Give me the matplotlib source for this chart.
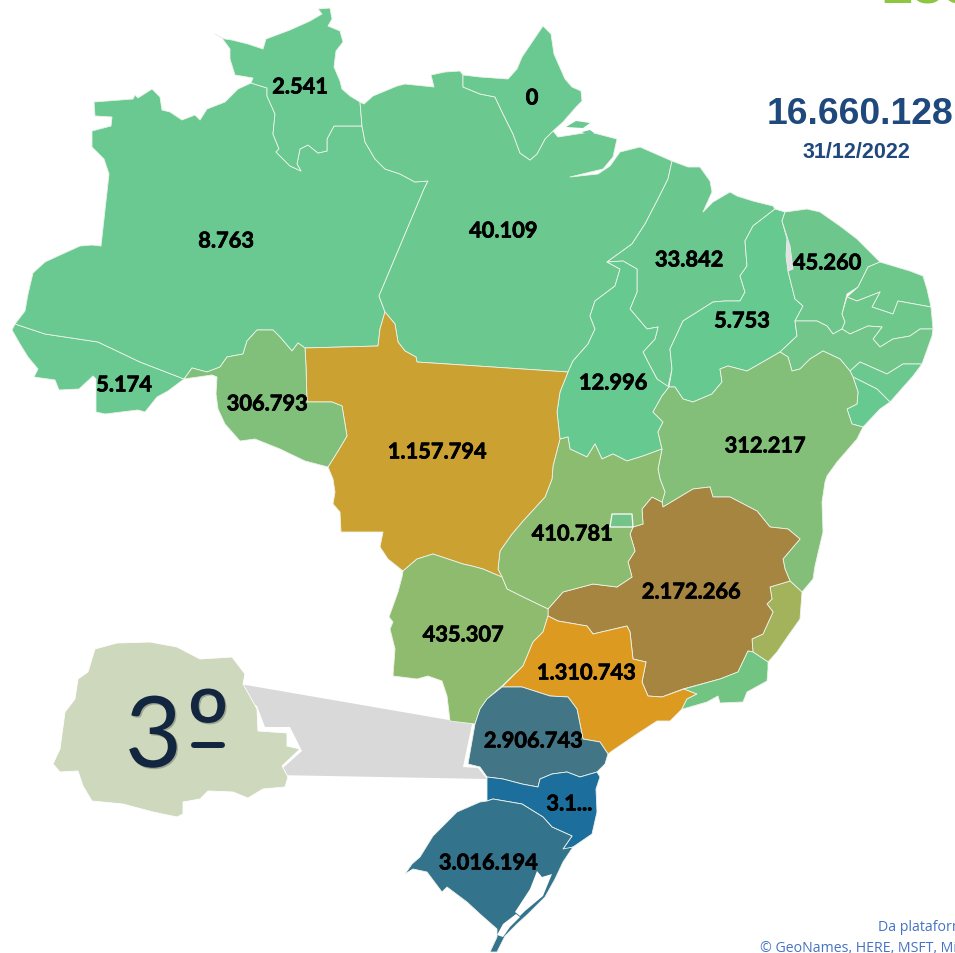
import matplotlib
matplotlib.use("Agg")
import matplotlib.pyplot as plt
import matplotlib.patheffects as pe

# outlines, in picture pixels
AC = [(15,325),(12,331),(20,345),(28,358),(38,370),(34,378),(55,381),(59,391),(79,390),(93,377),(96,380),(96,413),(105,415),(138,411),(145,413),(157,398),(168,392),(184,380),(140,363),(98,343),(45,335)]
AM = [(15,325),(25,312),(28,295),(33,274),(45,263),(58,257),(80,247),(92,246),(101,247),(109,175),(104,160),(92,148),(92,132),(111,127),(112,118),(95,117),(94,103),(133,100),(135,96),(138,99),(152,90),(160,98),(162,111),(170,113),(182,121),(195,116),(200,121),(207,110),(225,103),(235,93),(238,90),(251,84),(267,89),(267,97),(275,115),(273,135),(279,150),(276,153),(290,167),(301,172),(297,165),(300,150),(308,146),(318,154),(327,152),(327,140),(334,127),(362,127),(365,143),(375,160),(385,170),(400,175),(415,183),(428,182),(424,190),(379,297),(385,313),(380,330),(378,347),(305,349),(298,344),(292,352),(280,338),(273,331),(257,331),(247,342),(243,355),(227,358),(220,368),(207,373),(192,369),(184,380),(140,363),(98,343),(45,335)]
RR = [(251,84),(253,79),(235,76),(230,60),(230,50),(222,39),(215,35),(225,40),(232,41),(248,45),(263,50),(266,40),(290,31),(310,22),(322,15),(318,10),(330,9),(332,20),(328,27),(340,32),(343,43),(336,52),(334,68),(340,82),(342,90),(350,97),(360,103),(362,127),(334,127),(327,140),(327,152),(318,154),(308,146),(300,150),(297,165),(301,172),(290,167),(276,153),(279,150),(273,135),(275,115),(267,97),(267,89)]
PA = [(360,103),(364,105),(373,97),(397,87),(405,85),(434,88),(431,76),(445,73),(460,72),(463,76),(463,88),(480,95),(495,98),(503,115),(513,135),(520,154),(530,161),(537,155),(545,140),(553,132),(558,138),(590,133),(617,140),(613,158),(603,170),(570,178),(598,175),(610,167),(620,153),(640,148),(672,162),(668,180),(658,200),(645,225),(632,245),(607,263),(620,270),(615,287),(595,302),(590,317),(595,330),(588,345),(573,362),(568,373),(417,363),(416,358),(405,352),(398,343),(395,325),(385,313),(379,297),(424,190),(428,182),(415,183),(400,175),(385,170),(375,160),(365,143),(362,127)]
AP = [(463,76),(480,78),(508,80),(517,70),(522,58),(543,27),(551,35),(554,55),(565,80),(572,88),(581,92),(582,102),(577,107),(570,115),(563,123),(553,132),(545,140),(537,155),(530,161),(520,154),(513,135),(503,115),(495,98),(480,95),(463,88)]
DELTA_ISLE_1 = [(566,128),(576,122),(590,124),(583,129)]
DELTA_ISLE_2 = [(582,133),(590,131),(594,134),(588,136)]
MA = [(672,162),(688,168),(700,168),(710,182),(712,193),(703,213),(713,203),(730,193),(737,197),(753,202),(773,207),(775,210),(753,227),(745,242),(747,267),(740,277),(745,293),(740,302),(725,302),(713,303),(683,322),(670,350),(672,370),(668,388),(657,380),(648,363),(643,353),(655,340),(658,328),(647,330),(630,310),(637,293),(637,270),(623,262),(607,263),(632,245),(645,225),(658,200),(668,180)]
TO = [(607,263),(620,270),(615,287),(595,302),(590,317),(595,330),(588,345),(573,362),(568,373),(560,393),(557,413),(560,440),(568,438),(570,450),(587,458),(595,445),(602,460),(613,455),(627,462),(643,457),(662,450),(658,433),(663,423),(653,413),(662,397),(669,388),(657,380),(648,363),(643,353),(655,340),(658,328),(647,330),(630,310),(637,293),(637,270),(623,262)]
PI = [(775,210),(785,213),(782,222),(787,240),(786,257),(788,272),(795,300),(803,307),(795,322),(797,337),(780,353),(768,360),(747,372),(728,367),(720,370),(722,383),(712,395),(693,403),(683,400),(675,388),(669,388),(672,370),(670,350),(683,322),(713,303),(725,302),(740,302),(745,293),(740,277),(747,267),(745,242),(753,227)]
SLIVER = [(782,222),(790,247),(793,270),(788,272),(786,257),(787,240)]
CE = [(785,213),(807,210),(820,213),(840,227),(857,240),(880,263),(868,268),(858,288),(847,295),(842,315),(845,323),(842,330),(833,335),(827,327),(817,322),(795,322),(803,307),(795,300),(788,272),(793,270),(790,247),(782,222)]
RN = [(880,263),(910,272),(923,277),(927,290),(931,308),(898,302),(893,315),(872,308),(880,293),(857,302),(847,298),(858,288),(868,268)]
PB = [(931,308),(933,330),(920,330),(910,337),(893,340),(880,348),(873,340),(882,328),(868,327),(850,335),(842,330),(845,323),(842,315),(847,298),(857,302),(880,293),(872,308),(893,315),(898,302)]
PE = [(933,330),(932,337),(922,365),(903,365),(887,375),(860,363),(850,372),(840,360),(823,352),(810,360),(800,370),(792,372),(788,358),(780,353),(797,337),(795,322),(817,322),(827,327),(833,335),(842,330),(850,335),(868,327),(882,328),(873,340),(880,348),(893,340),(910,337),(920,330)]
AL = [(922,365),(913,377),(890,403),(877,390),(853,378),(850,372),(860,363),(887,375),(903,365)]
SE = [(890,403),(880,410),(863,428),(852,425),(847,410),(857,405),(858,393),(853,378),(877,390)]
BA = [(662,397),(669,388),(675,388),(683,400),(693,403),(712,395),(722,383),(720,370),(728,367),(747,372),(768,360),(780,353),(788,358),(792,372),(800,370),(810,360),(823,352),(840,360),(850,372),(853,378),(858,393),(857,405),(847,410),(852,425),(863,428),(857,440),(837,463),(827,477),(825,483),(822,503),(823,533),(815,567),(813,580),(802,593),(790,582),(785,570),(783,560),(800,540),(788,530),(770,528),(757,512),(730,498),(713,498),(710,488),(693,490),(663,508),(662,502),(665,493),(660,480),(658,470),(662,450),(658,433),(663,423),(653,413)]
ES = [(790,582),(802,593),(800,620),(788,637),(777,653),(768,663),(753,653),(752,640),(763,635),(773,613),(767,605),(772,600),(770,588)]
MG = [(663,508),(693,490),(710,488),(713,498),(730,498),(757,512),(770,528),(788,530),(800,540),(783,560),(785,570),(790,582),(770,588),(772,600),(767,605),(773,613),(763,635),(752,640),(753,653),(748,652),(738,673),(720,680),(683,690),(662,698),(648,697),(642,683),(646,663),(633,660),(630,633),(627,627),(593,635),(587,627),(558,622),(548,617),(548,610),(563,593),(593,585),(617,588),(632,578),(628,563),(635,552),(630,535),(633,528),(643,525),(642,510),(652,498),(662,503)]
GO = [(658,470),(662,450),(643,457),(627,462),(613,455),(602,460),(595,445),(587,458),(570,450),(568,438),(560,440),(553,467),(552,480),(545,498),(523,522),(512,535),(500,552),(498,570),(502,578),(507,590),(523,598),(548,610),(563,593),(593,585),(617,588),(632,578),(628,563),(635,552),(630,535),(633,528),(643,525),(642,510),(652,498),(662,503),(665,493),(660,480)]
DF = [(612,515),(632,515),(633,528),(610,528)]
MT = [(385,313),(395,325),(398,343),(405,352),(416,358),(417,363),(568,373),(560,393),(557,413),(560,440),(553,467),(552,480),(545,498),(523,522),(512,535),(500,552),(498,570),(502,578),(497,576),(483,570),(472,567),(463,565),(433,555),(417,560),(403,572),(388,560),(380,548),(383,533),(341,533),(340,513),(333,505),(335,493),(333,480),(328,468),(338,452),(347,437),(342,407),(332,403),(307,403),(306,367),(305,349),(378,347),(380,330)]
RO = [(305,349),(306,367),(307,403),(332,403),(342,407),(347,437),(338,452),(328,468),(305,462),(280,450),(255,440),(240,442),(225,425),(218,410),(216,395),(217,378),(212,376),(184,380),(192,369),(207,373),(220,368),(227,358),(243,355),(247,342),(257,331),(273,331),(280,338),(292,352),(298,344)]
MS = [(403,572),(417,560),(433,555),(463,565),(472,567),(483,570),(497,576),(502,578),(507,590),(523,598),(548,610),(548,617),(543,633),(533,643),(523,667),(502,687),(487,700),(480,710),(475,725),(450,722),(447,697),(442,682),(428,677),(417,680),(393,677),(395,650),(390,630),(393,623),(389,618),(398,593),(402,578)]
SP = [(558,622),(587,627),(593,635),(627,627),(630,633),(633,660),(646,663),(642,683),(648,697),(662,698),(684,690),(697,695),(687,700),(682,710),(670,722),(657,722),(637,735),(612,752),(608,755),(600,743),(583,740),(577,710),(568,698),(550,697),(522,688),(502,688),(523,667),(533,643),(543,633),(548,617)]
RJ = [(748,652),(753,653),(768,663),(768,670),(767,682),(747,693),(743,703),(720,704),(718,697),(707,703),(683,710),(682,710),(687,700),(697,695),(684,690),(720,680),(738,673)]
PR = [(502,688),(522,688),(550,697),(568,698),(577,710),(583,740),(600,743),(608,755),(605,765),(597,773),(580,778),(567,773),(552,775),(540,780),(538,788),(522,785),(503,780),(487,778),(480,768),(468,765),(475,725),(480,710),(487,700)]
SC = [(487,778),(503,780),(522,785),(538,788),(540,780),(552,775),(567,773),(580,778),(597,773),(600,778),(596,790),(597,813),(592,835),(573,848),(563,852),(563,850),(572,837),(552,828),(543,818),(522,805),(493,800),(487,802),(487,787)]
RS = [(487,802),(493,800),(522,805),(543,818),(552,828),(572,837),(563,850),(573,848),(563,863),(555,880),(545,898),(528,915),(517,925),(505,937),(497,953),(490,953),(497,938),(497,930),(480,915),(467,903),(447,888),(442,893),(427,873),(413,870),(405,875),(412,865),(420,858),(433,837),(443,827),(457,813),(480,803)]
LAGOA_PATOS = [(537,872),(542,878),(552,875),(543,897),(525,912),(520,917),(515,913),(530,890)]
LAGOA_MIRIM = [(516,915),(520,918),(510,928),(503,938),(497,936),(503,925)]
PR_INSET = [(95,650),(117,644),(150,643),(177,648),(200,660),(232,658),(245,675),(243,685),(257,710),(258,732),(287,734),(287,747),(300,750),(282,767),(288,778),(285,788),(263,790),(248,799),(233,793),(208,792),(200,800),(183,803),(183,815),(177,818),(153,813),(123,805),(92,802),(83,787),(78,772),(60,773),(53,765),(60,750),(65,713),(75,700),(78,680),(88,673)]
CONNECTOR = [(240,685),(472,725),(463,768),(478,769),(487,780),(275,776),(302,752),(290,728),(265,728),(257,707),(245,700)]

states = [AC, AM, RR, PA, AP, MA, TO, PI, CE, RN, PB, PE, AL, SE, BA, ES, MG, GO, MT, RO, MS, SP, RJ, PR, SC, RS]
state_colors = ["#69C990", "#69C990", "#69C990", "#6BC88E", "#69C990", "#6AC88F", "#66C98F", "#66C98F", "#6DC78C", "#6EC78B", "#6EC78B", "#72C689", "#6BC88E", "#66C98F", "#83BF78", "#A3B35C", "#A5853F", "#8BBC70", "#CBA131", "#80C07A", "#8EBB6E", "#DC9B20", "#71C481", "#427585", "#1C6E9C", "#33738C"]

values = ["2.541", "0", "8.763", "40.109", "33.842", "45.260", "5.753", "5.174", "12.996", "306.793", "1.157.794", "312.217", "410.781", "2.172.266", "435.307", "1.310.743", "2.906.743", "3.1...", "3.016.194"]
value_x = [300, 532, 226, 503, 689, 827, 742, 124, 613, 267, 437, 765, 572, 691, 463, 586, 533, 569, 488]
value_y = [88, 99, 242, 232, 261, 264, 322, 386, 384, 405, 453, 447, 535, 593, 636, 674, 742, 805, 864]

total = "16.660.128"
total_date = "31/12/2022"
rank_number = "3"
rank_sign = "º"
credits = ["Da plataforma", "© GeoNames, HERE, MSFT, Microsoft"]

fig = plt.figure(figsize=(9.55, 9.54), dpi=100)
ax = fig.add_axes([0, 0, 1, 1])
ax.set_xlim(0, 955)
ax.set_ylim(954, 0)
ax.axis("off")

# grey wedge goes under the enlarged state
x, y = zip(*CONNECTOR)
ax.fill(x, y, color="#D9D9D9", lw=0)
x, y = zip(*PR_INSET)
ax.fill(x, y, facecolor="#CED8BC", edgecolor="white", lw=0.6, joinstyle="round")

for shape, color in zip(states, state_colors):
    x, y = zip(*shape)
    ax.fill(x, y, facecolor=color, edgecolor="#EDF3EA", lw=0.6, joinstyle="round")

for isle in [DELTA_ISLE_1, DELTA_ISLE_2]:
    x, y = zip(*isle)
    ax.fill(x, y, color="#69C990", lw=0)
x, y = zip(*SLIVER)
ax.fill(x, y, color="#E2E2E2", lw=0)
x, y = zip(*DF)
ax.fill(x, y, facecolor="#72C489", edgecolor="white", lw=0.9)
for lagoon in [LAGOA_PATOS, LAGOA_MIRIM]:
    x, y = zip(*lagoon)
    ax.fill(x, y, color="white", lw=0)

# thin stroke makes the labels as heavy as the original's
heavy = [pe.withStroke(linewidth=0.5, foreground="black")]
for label, lx, ly in zip(values, value_x, value_y):
    ax.text(lx, ly, label, family="Lato", weight="bold", fontsize=15.7, color="black", ha="center", va="center", path_effects=heavy)

ax.text(859.5, 114, total, family="Liberation Sans", weight="bold", fontsize=26.9, color="#1F497D", ha="center", va="center")
ax.text(856.5, 152, total_date, family="Liberation Sans", weight="bold", fontsize=15.5, color="#1F497D", ha="center", va="center")

shadow = [pe.withSimplePatchShadow(offset=(1, -1), alpha=0.25)]
ax.text(153.5, 768, rank_number, family="Lato", fontsize=71, color="#12263F", ha="center", va="baseline", path_effects=shadow)
ax.text(208, 770, rank_sign, family="Lato", fontsize=80, color="#12263F", ha="center", va="baseline", path_effects=shadow)
# the ordinal sign is underlined in the original
ax.plot([194, 222], [746, 746], color="#12263F", lw=4.3, solid_capstyle="round")

ax.text(878, 928, credits[0], family="Open Sans", fontsize=10.2, color="#4472C4", ha="left", va="center")
ax.text(760, 949, credits[1], family="Open Sans", fontsize=10.2, color="#4472C4", ha="left", va="center")

# bits of a big green heading cut off by the top edge
ax.text(880, 3, "188", family="Liberation Sans", weight="bold", fontsize=41, color="#8DC63F", ha="left", va="baseline")

fig.savefig("out.png", dpi=100)
